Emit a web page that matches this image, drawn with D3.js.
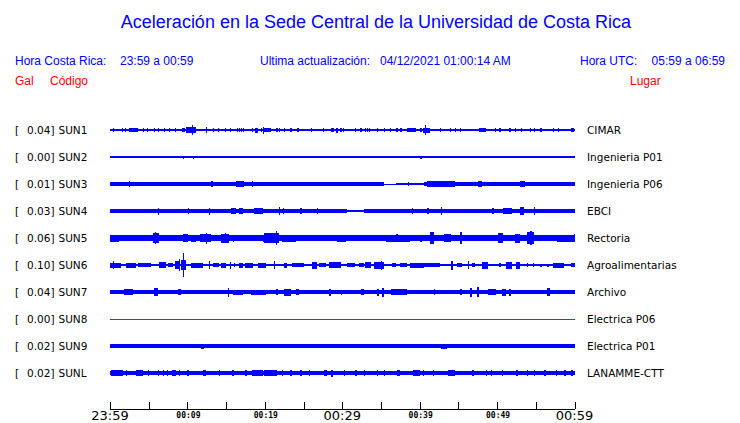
<!DOCTYPE html>
<html><head><meta charset="utf-8">
<script src="https://cdn.jsdelivr.net/npm/d3@7"></script>
<style>html,body{margin:0;padding:0;background:#fff;}svg{display:block;}</style>
</head><body>
<script>
// ---------- data ----------
const titleText = "Aceleración en la Sede Central de la Universidad de Costa Rica";
const headerLeft = ["Hora Costa Rica:", "23:59 a 00:59"];
const headerMid = ["Ultima actualización:", "04/12/2021 01:00:14 AM"];
const headerRight = ["Hora UTC:", "05:59 a 06:59"];
const codes = ["SUN1","SUN2","SUN3","SUN4","SUN5","SUN6","SUN7","SUN8","SUN9","SUNL"];
const places = ["CIMAR","Ingenieria P01","Ingenieria P06","EBCI","Rectoria","Agroalimentarias","Archivo","Electrica P06","Electrica P01","LANAMME-CTT"];
const peakGal = ["0.04","0.00","0.01","0.03","0.06","0.10","0.04","0.00","0.02","0.02"];
const tickMinutes = [0,5,10,15,20,25,30,35,40,45,50,55,60];
const majorLabels = [[0,"23:59"],[30,"00:29"],[60,"00:59"]];
const minorLabels = [[10,"00:09"],[20,"00:19"],[40,"00:39"],[50,"00:49"]];

// background noise level segments [t0 (min), t1 (min), half amplitude]
const noise1 = [[0,60,1.0]];
const noise2 = [[0,60,0.75]];
const noise3 = [[0,20,2.4],[20,35.35,2.1],[35.35,37,0.5],[37,40.5,0.9],[40.5,60,2.4]];
const noise4 = [[0,30.6,2.4],[30.6,32.8,1.3],[32.8,60,2.4]];
const noise5 = [[0,60,2.8]];
const noise6 = [[0,60,1.0]];
const noise7 = [[0,60,1.8]];
const noise8 = [[0,60,0.5]];
const noise9 = [[0,60,1.7]];
const noiseL = [[0,60,2.3]];

// events [t0 (min), t1 (min), half amplitude]
const ev1 = [[0.39,0.39,2],[1.5,1.5,1.8],[1.94,1.94,1.8],[2.45,3.61,2.2],[4.3,4.3,1.8],[4.8,4.8,1.8],[5.7,5.7,1.8],[6.15,6.15,1.8],[7.0,7.0,1.8],[7.65,7.65,1.8],[8.4,8.4,1.8],[9.3,9.7,1.6],[9.8,11.1,3],[10.6,10.6,5],[12.4,12.4,3],[13.25,13.25,1.8],[13.97,13.97,1.8],[14.84,14.84,1.8],[15.5,15.5,1.8],[16.4,16.4,1.8],[16.6,16.6,1.8],[16.95,16.95,1.8],[17.2,17.2,1.8],[18.3,18.45,2],[18.7,19.1,2.5],[19.5,19.5,1.8],[19.75,19.75,3.5],[19.9,20.8,2],[21.5,21.5,1.8],[21.8,21.8,1.8],[22.45,22.65,1.6],[23.3,23.3,1.8],[24.2,24.2,1.8],[26.0,26.0,1.8],[27.5,27.5,1.8],[28.6,28.9,2],[29.25,29.25,2.5],[29.75,29.75,1.8],[30.06,30.06,1.8],[31.6,31.6,1.8],[32.35,32.35,1.8],[32.9,32.9,1.8],[33.2,33.2,1.8],[33.45,33.45,1.8],[34.5,34.5,1.8],[35.35,35.35,1.8],[36.2,36.2,1.8],[37.0,37.0,1.8],[37.5,37.5,1.8],[38.3,39.5,2],[40.1,40.1,1.8],[40.4,41.3,2.5],[40.7,40.7,5],[42.6,42.6,1.8],[43.9,43.9,1.8],[44.5,44.5,1.8],[45.2,45.2,1.6],[47.7,48.6,2],[49.7,49.7,1.8],[50.3,50.3,1.8],[51.6,51.6,1.8],[52.25,52.5,2],[53.1,53.1,1.8],[54.2,54.2,1.8],[54.8,54.8,1.8],[55.6,55.6,1.8],[57.2,57.4,2],[57.85,57.85,1.8],[59.6,59.9,2]];
const ev2 = [[9.4,9.4,1.5],[10.7,10.7,1.5],[40.1,40.1,1.5],[41.0,41.0,1.3],[42.8,42.8,1.3],[49.5,49.5,1.3],[52.9,52.9,1.3],[55.2,55.2,1.3]];
const ev3 = [[2.45,2.45,3.2],[13.0,13.3,2.9],[16.3,17.3,2.6],[18.3,18.3,3.2],[38.45,38.45,1.6],[40.9,44.5,2.6],[47.5,48.0,2.6],[53.0,53.6,2.6]];
const ev4 = [[6.2,6.2,3.5],[10.1,10.1,3],[12.8,12.8,3.5],[15.6,16.3,2.8],[16.6,17.2,2.8],[18.6,19.75,2.8],[21.8,21.8,4],[22.3,22.3,3],[24.6,24.6,2.8],[26.7,26.7,3],[39.0,39.0,3],[41.0,41.0,3],[42.7,42.7,4],[49.4,49.4,3],[50.7,51.9,2.8],[52.9,53.5,4],[54.8,54.8,4]];
const ev5 = [[0,1.16,3.5],[1.7,2.7,3.3],[3.35,3.35,3.3],[4.26,5.3,3.3],[5.55,6.3,5],[5.85,5.85,6.3],[7.0,7.6,3.3],[8.1,8.8,3.3],[9.4,10.1,4],[10.45,11.1,3.5],[11.6,13.0,4],[12.4,12.4,5.5],[14.3,15.35,4.5],[14.8,14.8,5],[15.9,15.9,3.5],[17.5,17.9,3.3],[19.75,20.1,3.5],[19.9,21.8,5],[21.4,21.4,7],[22.2,24.0,3.5],[24.4,25.4,3.3],[26.3,28.0,3.3],[29.3,30.45,3.5],[31.5,31.5,3.3],[35.6,38.8,3.5],[37.0,37.0,4.2],[40.1,40.1,3.5],[41.3,41.9,6],[43.2,44.1,4],[45.2,45.5,6],[47.1,49.0,3.3],[50.1,50.7,5],[52.3,52.9,4.5],[53.8,54.8,6],[54.3,54.3,7],[55.5,56.1,3.3],[57.7,60,3.5],[59.9,59.9,4]];
const ev6 = [[0,1.4,2.5],[0.4,0.4,4],[2.1,3.35,2.5],[3.6,5.3,2.2],[6.3,7.2,3],[7.5,8.1,2],[8.4,8.9,4],[8.85,8.85,6],[9.2,9.8,5],[9.45,9.45,12.3],[10.45,12.0,2.5],[12.8,12.8,4],[13.3,14.1,2],[14.3,15.0,2.5],[15.5,15.5,3.5],[16.0,16.0,2],[16.6,17.2,2.5],[17.5,18.45,2.5],[19.1,20.1,2.5],[21.2,21.2,4],[22.45,22.8,2.5],[23.5,25.0,2],[26.1,26.7,3.5],[27.0,27.9,2],[28.3,29.9,3],[30.6,31.7,2],[32.1,32.8,2],[33.0,33.7,3],[34.1,35.35,3.5],[35.0,35.0,4.5],[36.4,37.0,2],[37.5,38.3,2],[38.8,40.5,2.5],[40.5,42.6,2],[44.1,44.1,4.5],[44.8,45.5,2],[46.2,46.2,4],[46.7,47.1,2],[48.0,48.8,3.5],[50.3,50.3,2],[51.2,51.9,3.5],[52.5,52.9,3.5],[53.8,53.8,2],[54.6,54.8,2],[55.6,55.6,1.5],[56.5,56.5,1.5],[57.2,58.7,2.5],[59.6,60,2]];
const ev7 = [[0,1.7,2.2],[1.8,3.0,3],[4.3,5.2,2.2],[5.7,6.2,4],[7.2,8.1,2.2],[8.8,9.2,3],[10.8,12.0,2.2],[14.2,14.6,2.2],[15.2,15.2,4.5],[15.9,17.2,2.5],[18.2,20.1,2.5],[21.5,21.5,3],[22.45,23.35,3.5],[24.0,24.4,3],[25.7,26.1,2.2],[27.0,27.6,2.2],[28.3,28.6,3.5],[29.8,29.8,2.5],[32.4,32.8,3],[34.45,34.7,3.5],[35.1,35.35,4.5],[36.3,38.3,3],[38.8,40.5,2.2],[41.8,41.8,3],[45.2,45.5,3],[46.45,46.8,4.5],[47.35,47.7,5],[48.8,49.9,3],[50.6,51.2,3.5],[51.6,51.6,3.5],[52.9,53.8,2.2],[56.5,56.8,4],[58.1,60,2.2]];
const ev8 = [];
const ev9 = [[0.5,0.5,2],[3.0,3.0,2],[6.5,6.5,2],[9.5,9.5,2],[11.7,12.1,2.5],[15.0,15.0,2],[18.6,19.75,2.2],[24.0,24.0,2],[30.5,30.5,2],[35.0,35.0,2],[42.8,43.5,2.5],[43.7,43.7,2],[46.3,46.3,2],[52.6,53.2,2.2],[57.0,57.0,2]];
const evL = [[0.1,1.7,2.7],[2.06,2.06,2.7],[3.35,4.3,2.7],[4.86,4.86,2.7],[6.2,6.2,2.7],[6.8,6.8,2.7],[7.4,7.4,2.7],[8.0,8.5,2.7],[8.94,8.94,2.7],[10.0,10.0,2.7],[12.0,12.4,2.7],[14.1,14.1,2.7],[15.8,15.8,2.7],[17.5,17.5,2.7],[18.4,19.7,2.7],[19.9,21.6,2.7],[22.2,22.2,2.7],[23.3,23.3,2.7],[24.6,24.6,2.7],[25.7,25.7,2.7],[27.6,28.0,3],[28.6,28.6,3.5],[30.2,30.2,2.7],[31.7,31.7,2.7],[32.8,32.8,2.7],[34.5,34.5,2.7],[35.35,35.35,2.7],[37.1,37.5,2.7],[39.2,40.1,2.7],[40.4,40.4,2.7],[41.7,41.7,2.7],[43.6,44.5,3],[46.8,46.8,2.7],[48.6,48.6,2.7],[49.2,49.2,2.7],[50.6,50.6,3],[52.5,52.5,2.7],[53.8,53.8,2.7],[54.8,54.8,2.7],[56.1,56.1,2.7],[57.6,57.6,2.7],[58.7,58.7,2.7],[59.6,59.6,2.7]];

const noiseByStation = [noise1,noise2,noise3,noise4,noise5,noise6,noise7,noise8,noise9,noiseL];
const eventsByStation = [ev1,ev2,ev3,ev4,ev5,ev6,ev7,ev8,ev9,evL];

// ---------- drawing ----------
const W = 740, H = 423;
const blue = "#0000ff", red = "#ff0000";
const svg = d3.select("body").append("svg").attr("width", W).attr("height", H);

const x = d3.scaleLinear().domain([0, 60]).range([110, 574.5]);
const rowY = d3.scalePoint().domain(codes).range([130, 373]);
const amp = d3.scaleLinear().domain([-13.5, 13.5]).range([13.5, -13.5]);
const traceColor = c => c === "SUN8" ? red : blue;

svg.append("text").attr("x", 376).attr("y", 28).attr("text-anchor", "middle")
  .attr("font-family", "Liberation Sans, Arial, sans-serif").attr("font-size", 18)
  .attr("fill", blue).text(titleText);

const hdr = svg.append("g").attr("font-family", "Liberation Sans, Arial, sans-serif")
  .attr("font-size", 12).attr("fill", blue);
hdr.append("text").attr("x", 15).attr("y", 65).text(headerLeft[0]);
hdr.append("text").attr("x", 120).attr("y", 65).text(headerLeft[1]);
hdr.append("text").attr("x", 260).attr("y", 65).text(headerMid[0]);
hdr.append("text").attr("x", 380).attr("y", 65).text(headerMid[1]);
hdr.append("text").attr("x", 580).attr("y", 65).text(headerRight[0]);
hdr.append("text").attr("x", 725).attr("y", 65).attr("text-anchor", "end").text(headerRight[1]);

const sub = svg.append("g").attr("font-family", "Liberation Sans, Arial, sans-serif")
  .attr("font-size", 12).attr("fill", red);
sub.append("text").attr("x", 15).attr("y", 85).text("Gal");
sub.append("text").attr("x", 50).attr("y", 85).text("Código");
sub.append("text").attr("x", 630).attr("y", 85).text("Lugar");

const lab = svg.append("g").attr("font-family", "DejaVu Sans, sans-serif")
  .attr("font-size", 10.5).attr("fill", "#000");
codes.forEach((c, i) => {
  const y = rowY(c) + 4;
  lab.append("text").attr("x", 15).attr("y", y).text("[");
  lab.append("text").attr("x", 54.5).attr("y", y).attr("text-anchor", "end").text(peakGal[i] + "]");
  lab.append("text").attr("x", 58.5).attr("y", y).text(c);
  lab.append("text").attr("x", 587).attr("y", y).text(places[i]);
});

const traces = svg.append("g").attr("shape-rendering", "crispEdges");
codes.forEach((c, i) => {
  const g = traces.append("g").attr("transform", `translate(0,${rowY(c)})`).attr("fill", traceColor(c));
  const segs = noiseByStation[i].concat(eventsByStation[i]);
  g.selectAll("rect").data(segs).join("rect")
    .attr("x", d => x(d[0]))
    .attr("width", d => Math.max(1.2, x(d[1]) - x(d[0])))
    .attr("y", d => amp(d[2]))
    .attr("height", d => Math.max(1, amp(-d[2]) - amp(d[2])));
});

// time axis
const axisY = 409;
const ax = svg.append("g").attr("stroke", "#000").attr("shape-rendering", "crispEdges");
ax.append("line").attr("x1", x(0)).attr("x2", x(60)).attr("y1", axisY + 0.5).attr("y2", axisY + 0.5);
ax.selectAll("line.t").data(tickMinutes).join("line").attr("class", "t")
  .attr("x1", d => Math.round(x(d)) + 0.5).attr("x2", d => Math.round(x(d)) + 0.5)
  .attr("y1", axisY - 7).attr("y2", axisY);
svg.append("g").attr("font-family", "DejaVu Sans, sans-serif").attr("font-size", 13)
  .attr("text-anchor", "middle").attr("fill", "#000")
  .selectAll("text").data(majorLabels).join("text")
  .attr("x", d => x(d[0])).attr("y", 419.5).text(d => d[1]);
svg.append("g").attr("font-family", "DejaVu Sans Mono, monospace").attr("font-size", 8)
  .attr("font-weight", "bold").attr("text-anchor", "middle").attr("fill", "#000")
  .selectAll("text").data(minorLabels).join("text")
  .attr("x", d => x(d[0]) + 1).attr("y", 417.5).text(d => d[1]);
</script>
</body></html>
